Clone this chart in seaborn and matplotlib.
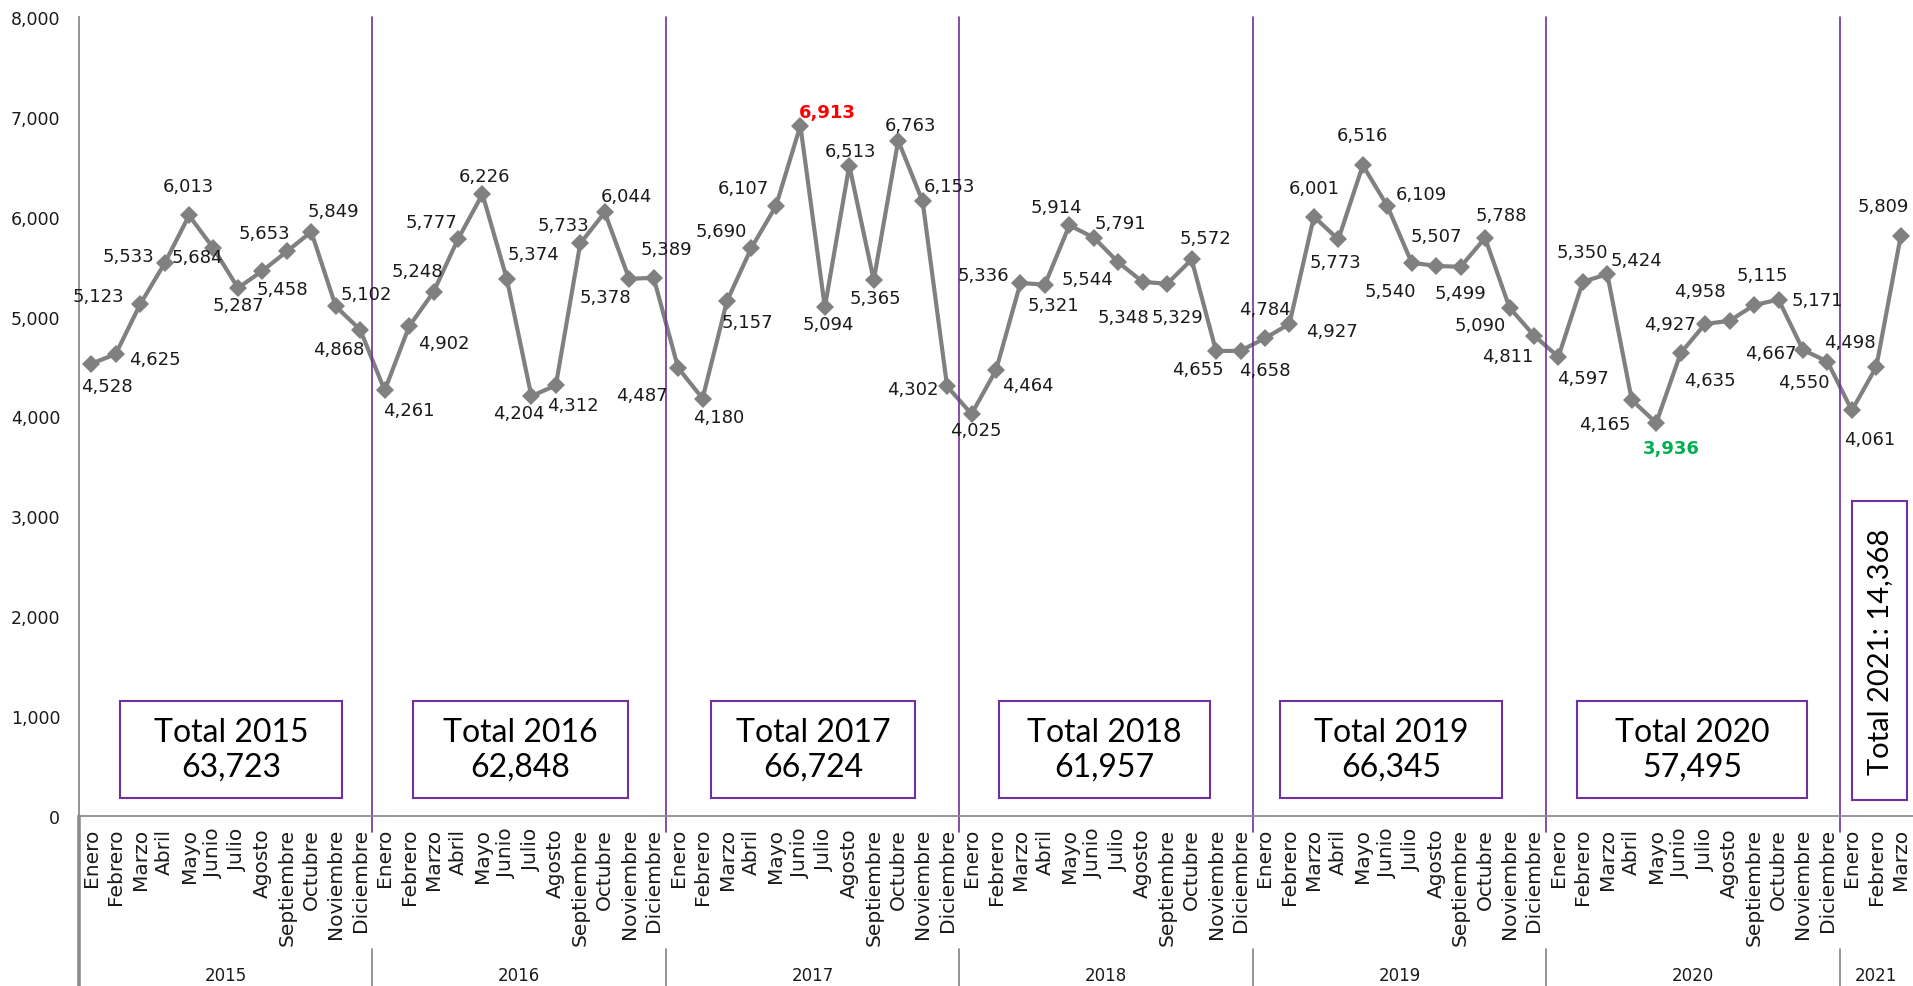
import pandas as pd
import matplotlib.pyplot as plt
import matplotlib.transforms as mtransforms
from matplotlib.patches import Rectangle
from matplotlib.ticker import FuncFormatter
import seaborn as sns

# monthly values
meses = ["Enero", "Febrero", "Marzo", "Abril", "Mayo", "Junio", "Julio",
         "Agosto", "Septiembre", "Octubre", "Noviembre", "Diciembre"]
anios = ["2015", "2016", "2017", "2018", "2019", "2020", "2021"]

ventas_2015 = [4528, 4625, 5123, 5533, 6013, 5684, 5287, 5458, 5653, 5849, 5102, 4868]
ventas_2016 = [4261, 4902, 5248, 5777, 6226, 5374, 4204, 4312, 5733, 6044, 5378, 5389]
ventas_2017 = [4487, 4180, 5157, 5690, 6107, 6913, 5094, 6513, 5365, 6763, 6153, 4302]
ventas_2018 = [4025, 4464, 5336, 5321, 5914, 5791, 5544, 5348, 5329, 5572, 4655, 4658]
ventas_2019 = [4784, 4927, 6001, 5773, 6516, 6109, 5540, 5507, 5499, 5788, 5090, 4811]
ventas_2020 = [4597, 5350, 5424, 4165, 3936, 4635, 4927, 4958, 5115, 5171, 4667, 4550]
ventas_2021 = [4061, 4498, 5809]

series = [ventas_2015, ventas_2016, ventas_2017, ventas_2018,
          ventas_2019, ventas_2020, ventas_2021]

# label offsets (pixels, from marker centre to label centre)
label_offsets = [
    (16, -22), (39, -5), (-42, 8), (-36, 7), (-1, 29), (-16, -9),
    (0, -17), (20, -18), (-22, 18), (22, 21), (30, 12), (-21, -19),
    (24, -20), (35, -17), (-16, 21), (-27, 17), (2, 18), (27, 25),
    (-13, -17), (17, -20), (-17, 18), (22, 16), (-24, -18), (13, 29),
    (-36, -27), (16, -18), (20, -21), (-30, 17), (-33, 18), (27, 14),
    (3, -17), (1, 15), (2, -18), (12, 16), (27, 15), (-34, -3),
    (4, -16), (32, -15), (-37, 8), (8, -20), (-13, 18), (27, 15),
    (-31, -17), (-19, -35), (10, -33), (14, 21), (-18, -18), (24, -19),
    (0, 29), (42, -7), (0, 29), (-3, -23), (0, 30), (34, 12),
    (-21, -28), (0, 30), (0, -26), (16, 23), (-29, -17), (-26, -20),
    (25, -21), (-1, 30), (29, 14), (-27, -24), (15, -25), (29, -27),
    (-35, 0), (-30, 30), (8, 30), (39, 0), (-32, -3), (-24, -20),
    (18, -29), (-26, 25), (-18, 30),
]

# x extents of the total boxes (category units)
box_spans = [(1.18, 10.26), (13.16, 21.95), (25.35, 33.69), (37.13, 45.76),
             (48.62, 57.70), (60.77, 70.18), (72.02, 74.27)]

valores = [v for s in series for v in s]
etiquetas = [meses[i] for s in series for i in range(len(s))]
df = pd.DataFrame({"pos": range(len(valores)), "ventas": valores, "mes": etiquetas})

sns.set_style("white")
plt.rcParams["font.family"] = ["DejaVu Sans"]

W, H = 1913, 987
fig = plt.figure(figsize=(W / 100, H / 100), dpi=100)
ax = fig.add_axes([79 / W, 1 - 817 / H, 1 - 79 / W, (817 - 18) / H])

gris = "#808080"
morado = "#7030A0"

sns.lineplot(data=df, x="pos", y="ventas", ax=ax, color=gris, linewidth=3,
             marker="D", markersize=9, markeredgewidth=0)

ax.set_xlim(-0.5, len(valores) - 0.5)
ax.set_ylim(0, 8000)
ax.set_yticks(range(0, 8001, 1000))
ax.yaxis.set_major_formatter(FuncFormatter(lambda v, p: f"{int(v):,}"))
ax.tick_params(axis="y", length=0, pad=13.5, labelsize=12.5, labelcolor="#1a1a1a")
ax.set_xticks(df["pos"])
ax.set_xticklabels(df["mes"], rotation=90, fontsize=14.5, color="#1a1a1a")
ax.tick_params(axis="x", length=0, pad=8.5)
ax.set_xlabel("")
ax.set_ylabel("")
for s in ["top", "right"]:
    ax.spines[s].set_visible(False)
for s in ["left", "bottom"]:
    ax.spines[s].set_color("#8c8c8c")
    ax.spines[s].set_linewidth(1.3)

trans = mtransforms.blended_transform_factory(ax.transData, ax.transAxes)

# data labels
i_max = df["ventas"].idxmax()
i_min = df["ventas"].idxmin()
for i, v in enumerate(valores):
    color, peso = "#1a1a1a", "normal"
    if i == i_max:
        color, peso = "#ff0000", "bold"
    elif i == i_min:
        color, peso = "#00b050", "bold"
    dx, dy = label_offsets[i]
    ax.annotate(f"{v:,}", (i, v), xytext=(dx, dy), textcoords="offset pixels",
                ha="center", va="center", fontsize=13, color=color, fontweight=peso)

# year separators, year names and total boxes
inicio = 0
for k, s in enumerate(series):
    b = inicio - 0.5
    if k > 0:
        ax.plot([b, b], [1.0, -0.02], transform=trans, color=morado, lw=1.2, clip_on=False)
        ax.plot([b, b], [-0.1665, -0.22], transform=trans, color="#8c8c8c", lw=1.3, clip_on=False)
    else:
        ax.plot([b, b], [0, -0.22], transform=trans, color="#8c8c8c", lw=2.6, clip_on=False)
    centro = inicio + (len(s) - 1) / 2
    ax.text(centro, -0.199, anios[k], transform=trans, ha="center", va="center",
            fontsize=12, color="#1a1a1a")

    x0, x1 = box_spans[k]
    total = sum(s)
    if len(s) == 12:
        ax.add_patch(Rectangle((x0, 180), x1 - x0, 971, fill=False,
                               edgecolor=morado, lw=1.5))
        ax.text((x0 + x1) / 2, 665, f"Total {anios[k]}\n{total:,}", ha="center",
                va="center", fontsize=23, family="Lato", linespacing=1.2, color="black")
    else:
        ax.add_patch(Rectangle((x0, 160), x1 - x0, 2993, fill=False,
                               edgecolor=morado, lw=1.5))
        ax.text((x0 + x1) / 2, 1656, f"Total {anios[k]}: {total:,}", ha="center",
                va="center", fontsize=21, family="Lato", rotation=90, color="black")
    inicio += len(s)

fig.savefig("out.png", dpi=100)
